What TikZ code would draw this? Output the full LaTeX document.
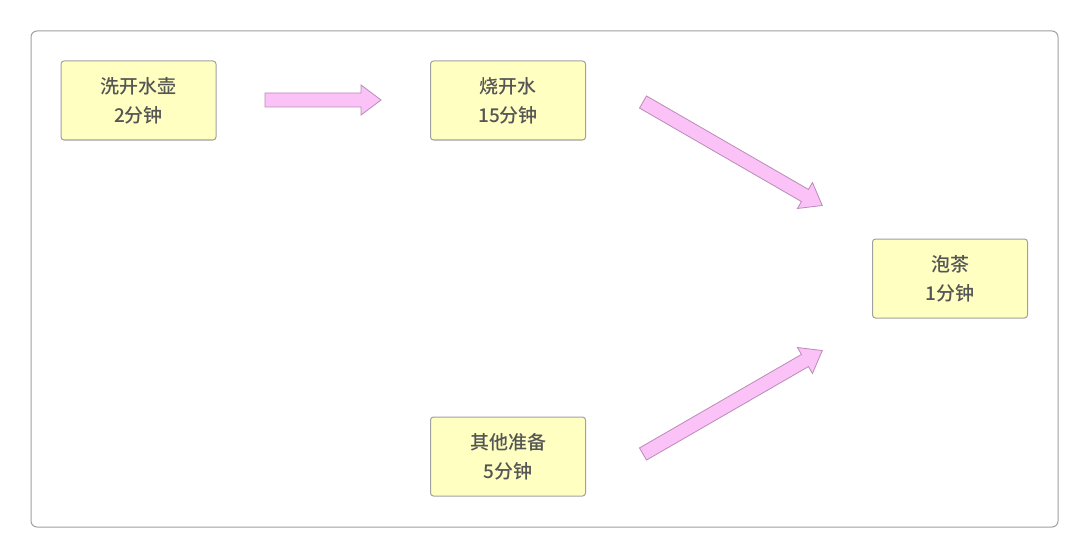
\documentclass[tikz,border=0pt]{standalone}
\usepackage{fontspec}
\setmainfont{Noto Sans CJK SC}[BoldFont={Noto Sans CJK SC Medium}]
\definecolor{boxfill}{HTML}{FFFFC2}
\definecolor{boxline}{HTML}{A0A0A0}
\definecolor{arrfill}{HTML}{FBC2F8}
\definecolor{arrline}{HTML}{B98BB6}
\definecolor{txt}{HTML}{555555}
\begin{document}
\begin{tikzpicture}[x=1pt,y=-1pt,
  task/.style={draw=boxline,fill=boxfill,line width=1pt,rounded corners=3pt,minimum width=155pt,minimum height=79pt,align=center,text=txt,font=\fontsize{19}{29}\selectfont\bfseries},
  blk/.style={draw=arrline,fill=arrfill,line width=0.8pt}]
\useasboundingbox (0,0) rectangle (1089,559);
\draw[boxline,line width=1pt,rounded corners=6pt] (31,31) rectangle (1058,527);
\node[task] (a) at (138.5,100.5) {洗开水壶\\2分钟};
\node[task] (b) at (508,100.5) {烧开水\\15分钟};
\node[task] (c) at (950,278.5) {泡茶\\1分钟};
\node[task] (d) at (508,456.5) {其他准备\\5分钟};
\newcommand{\blockarrow}[3]{% start, angle, length
  \draw[blk,shift={#1},rotate=#2] (0,-7)--(#3-20,-7)--(#3-20,-15)--(#3,0)--(#3-20,15)--(#3-20,7)--(0,7)--cycle;}
\blockarrow{(265,100)}{0}{116}
\blockarrow{(643,102)}{-30}{207}
\blockarrow{(643,454)}{30}{207}
\end{tikzpicture}
\end{document}
